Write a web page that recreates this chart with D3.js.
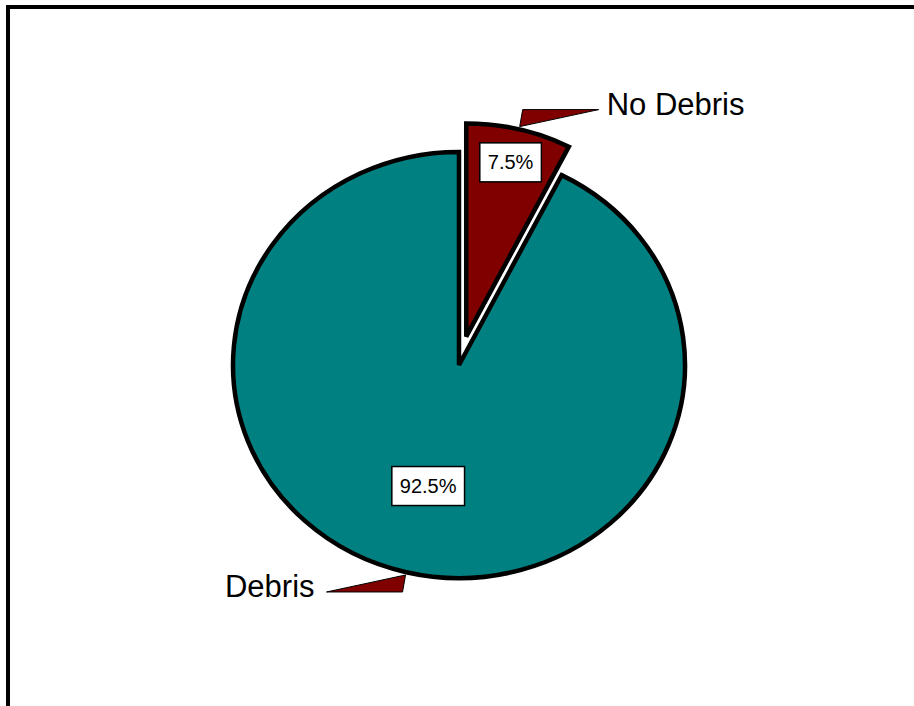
<!DOCTYPE html>
<html>
<head>
<meta charset="utf-8">
<script src="https://d3js.org/d3.v7.min.js"></script>
<style>
  html, body { margin: 0; padding: 0; background: #fff; overflow: hidden; }
  text { font-family: Arial, "Liberation Sans", sans-serif; }
</style>
</head>
<body>
<svg id="chart"></svg>
<script>
// data
const categories = ["No Debris", "Debris"];
const values = [7.5, 92.5];
const valueLabels = ["7.5%", "92.5%"];
const colors = ["#800000", "#008080"];
const exploded = [true, false];

const width = 914, height = 706;
const cx = 459, cy = 365;
const radius = 226, ky = 0.943;   // pie is drawn slightly squashed
const explodeBy = 31;
const labelRadius = [190, 132];

const svg = d3.select("#chart")
    .attr("width", width)
    .attr("height", height);

// outer frame (runs off the right and bottom edges)
svg.append("rect")
    .attr("x", 8).attr("y", 7)
    .attr("width", 1000).attr("height", 900)
    .attr("fill", "none")
    .attr("stroke", "#000")
    .attr("stroke-width", 4);

const pie = d3.pie().sort(null).value(d => d);
const arcs = pie(values);
const arc = d3.arc().innerRadius(0).outerRadius(radius);

const mid = d => (d.startAngle + d.endAngle) / 2;
// offset of each slice's centre on screen
const offset = (d, i) => {
  const r = exploded[i] ? explodeBy : 0;
  return [r * Math.sin(mid(d)), -r * Math.cos(mid(d)) * ky];
};
// point on screen at angle a, radius r, for slice i
const pt = (d, i, a, r) => {
  const o = offset(d, i);
  return [cx + o[0] + r * Math.sin(a), cy + o[1] - r * Math.cos(a) * ky];
};

// slices
arcs.forEach((d, i) => {
  const o = offset(d, i);
  svg.append("g")
      .attr("transform", `translate(${cx + o[0]},${cy + o[1]}) scale(1,${ky})`)
    .append("path")
      .attr("d", arc(d))
      .attr("fill", colors[i])
      .attr("stroke", "#000")
      .attr("stroke-width", 4.5)
      .attr("stroke-linejoin", "miter")
      .attr("vector-effect", "non-scaling-stroke");
});

// leader wedges and category labels
arcs.forEach((d, i) => {
  const a = mid(d);
  const side = Math.sin(a) >= 0 ? 1 : -1;
  const vert = Math.cos(a) >= 0 ? -1 : 1;
  const A = pt(d, i, a, radius + 3);
  const B = [A[0] + side * 3, A[1] + vert * 17];
  const T = [B[0] + side * 76, B[1]];
  svg.append("path")
      .attr("d", d3.line()([A, B, T]) + "Z")
      .attr("fill", "#800000")
      .attr("stroke", "#000")
      .attr("stroke-width", 1);
  svg.append("text")
      .attr("x", T[0] + (side > 0 ? 8 : -12))
      .attr("y", T[1] + 5)
      .attr("text-anchor", side > 0 ? "start" : "end")
      .attr("font-size", 31)
      .attr("fill", "#000")
      .text(categories[i]);
});

// percentage boxes
arcs.forEach((d, i) => {
  const p = pt(d, i, mid(d), labelRadius[i]);
  const g = svg.append("g");
  const box = g.append("rect");
  const t = g.append("text")
      .attr("x", p[0])
      .attr("y", p[1] + 7)
      .attr("text-anchor", "middle")
      .attr("font-size", 20)
      .attr("fill", "#000")
      .text(valueLabels[i]);
  const w = t.node().getComputedTextLength() + 16;
  const h = 39;
  box.attr("x", p[0] - w / 2)
      .attr("y", p[1] - h / 2)
      .attr("width", w)
      .attr("height", h)
      .attr("fill", "#fff")
      .attr("stroke", "#000")
      .attr("stroke-width", 1.5);
});
</script>
</body>
</html>
